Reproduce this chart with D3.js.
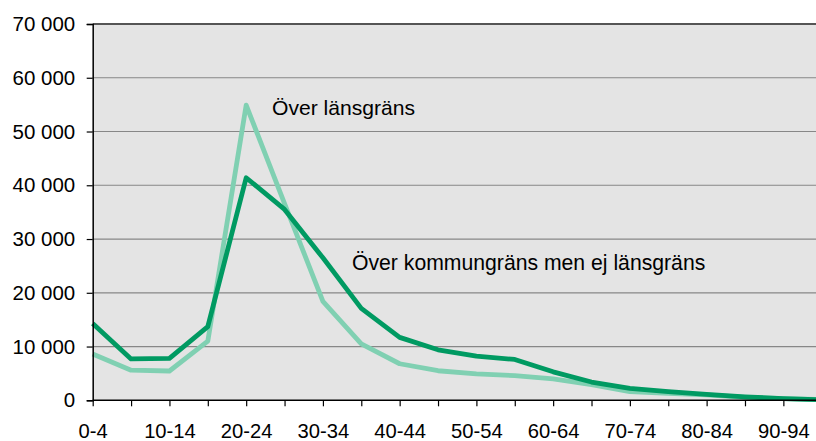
<!DOCTYPE html>
<html>
<head>
<meta charset="utf-8">
<script src="https://cdn.jsdelivr.net/npm/d3@7"></script>
<style>
  body { margin: 0; background: #fff; }
  text { font-family: "Liberation Sans", Arial, sans-serif; fill: #000; }
</style>
</head>
<body>
<svg id="chart" width="816" height="441"></svg>
<script>
// age groups on the x axis
var ageGroups = ["0-4", "5-9", "10-14", "15-19", "20-24", "25-29", "30-34", "35-39", "40-44", "45-49",
    "50-54", "55-59", "60-64", "65-69", "70-74", "75-79", "80-84", "85-89", "90-94", "95-99"];

// only every other age group gets a label
var xTickLabels = ["0-4", "10-14", "20-24", "30-34", "40-44", "50-54", "60-64", "70-74", "80-84", "90-94"];

var yTicks = [0, 10000, 20000, 30000, 40000, 50000, 60000, 70000];

// Över kommungräns men ej länsgräns
var kommunValues = [14300, 7700, 7800, 13700, 41400, 35500, 26500, 17100, 11700, 9400,
    8200, 7600, 5300, 3400, 2200, 1600, 1100, 650, 300, 100];

// Över länsgräns
var lansValues = [8600, 5600, 5450, 11000, 54900, 36600, 18400, 10500, 6800, 5500,
    4900, 4600, 4000, 2900, 1600, 1300, 1000, 550, 300, 120];

var seriesNames = ["Över kommungräns men ej länsgräns", "Över länsgräns"];

var margin = { top: 24, left: 92.7 },
    width = 816, height = 441,
    step = 38.37;

var svg = d3.select("#chart");

var x = d3.scalePoint()
    .domain(ageGroups)
    .range([margin.left, margin.left + step * (ageGroups.length - 1)]);

var y = d3.scaleLinear()
    .domain([0, 70000])
    .range([400.3, margin.top]);

// plot background
svg.append("rect")
    .attr("x", margin.left)
    .attr("y", y(70000))
    .attr("width", width - margin.left)
    .attr("height", y(0) - y(70000))
    .attr("fill", "#e4e4e4");

// gridlines
svg.append("g")
    .selectAll("line")
    .data(yTicks.filter(function (d) { return d > 0 && d < 70000; }))
    .enter().append("line")
    .attr("x1", margin.left).attr("x2", width)
    .attr("y1", function (d) { return y(d); })
    .attr("y2", function (d) { return y(d); })
    .attr("stroke", "#878787")
    .attr("stroke-width", 1.2);

// top border
svg.append("line")
    .attr("x1", margin.left).attr("x2", width)
    .attr("y1", y(70000)).attr("y2", y(70000))
    .attr("stroke", "#555")
    .attr("stroke-width", 2);

// lines
var line = d3.line()
    .x(function (d, i) { return x(ageGroups[i]); })
    .y(function (d) { return y(d); });

svg.append("path")
    .datum(lansValues)
    .attr("fill", "none")
    .attr("stroke", "#80d0b2")
    .attr("stroke-width", 4.8)
    .attr("stroke-linejoin", "round")
    .attr("d", line);

svg.append("path")
    .datum(kommunValues)
    .attr("fill", "none")
    .attr("stroke", "#009a62")
    .attr("stroke-width", 4.8)
    .attr("stroke-linejoin", "round")
    .attr("d", line);

// Y axis
var yAxis = svg.append("g")
    .attr("transform", "translate(" + margin.left + ",0)")
    .call(d3.axisLeft(y).tickValues(yTicks).tickSize(6).tickPadding(11.5)
        .tickFormat(function (d) { return d3.format(",")(d).replace(/,/g, " "); }));
yAxis.select(".domain").attr("stroke", "#000").attr("stroke-width", 1.5);
yAxis.selectAll(".tick line").attr("stroke", "#000").attr("stroke-width", 1.2);
yAxis.selectAll(".tick text").attr("font-size", "20.5px").attr("fill", "#000")
    .attr("font-family", "Liberation Sans, Arial, sans-serif");

// X axis
var xAxis = svg.append("g")
    .attr("transform", "translate(0," + y(0) + ")")
    .call(d3.axisBottom(x).tickSize(6).tickPadding(17)
        .tickSizeOuter(0)
        .tickFormat(function (d) { return xTickLabels.indexOf(d) >= 0 ? d : ""; }));
xAxis.select(".domain").attr("stroke", "#000").attr("stroke-width", 1.5)
    .attr("d", "M" + margin.left + ",0H" + width);
xAxis.selectAll(".tick line").attr("stroke", "#000").attr("stroke-width", 1.2);
xAxis.selectAll(".tick text").attr("font-size", "20.2px").attr("fill", "#000")
    .attr("font-family", "Liberation Sans, Arial, sans-serif");

// series labels
svg.append("text")
    .attr("x", 272).attr("y", 115)
    .attr("font-size", "21.1px")
    .text(seriesNames[1]);

svg.append("text")
    .attr("x", 352).attr("y", 270)
    .attr("font-size", "21.2px")
    .text(seriesNames[0]);
</script>
</body>
</html>
